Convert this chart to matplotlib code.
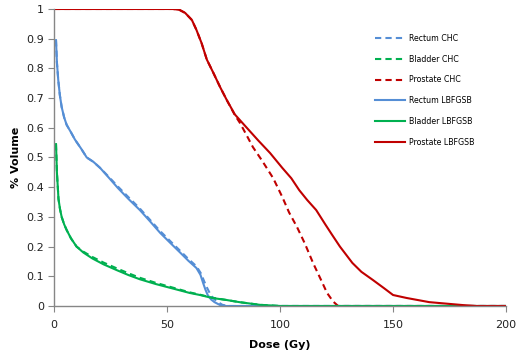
import matplotlib
matplotlib.use("Agg")
import matplotlib.pyplot as plt

# Data (dose in Gy, fractional volume)
rectum_lbfgsb_dose = [0.9, 1.3, 1.9, 2.6, 3.4, 4.5, 5.6, 7.5, 9.3, 12, 14.5, 17.5, 20.4, 24.5, 28.3, 33, 38, 42.5, 47, 51.5, 55.8, 59.5, 63, 64.8, 66, 67, 68, 69.5, 71, 73.5, 76, 200]
rectum_lbfgsb_vol  = [0.895, 0.82, 0.76, 0.71, 0.67, 0.635, 0.61, 0.585, 0.56, 0.53, 0.50, 0.485, 0.465, 0.43, 0.397, 0.36, 0.323, 0.285, 0.246, 0.212, 0.18, 0.152, 0.128, 0.105, 0.077, 0.055, 0.037, 0.022, 0.013, 0.003, 0.0, 0.0]
rectum_chc_dose = [0.9, 1.3, 1.9, 2.6, 3.4, 4.5, 5.6, 7.5, 9.3, 12, 14.5, 17.5, 20.4, 24.5, 28.3, 33, 38, 42.5, 47, 51.5, 55.8, 59.5, 63, 65, 66.5, 67.8, 69, 70.5, 72, 74.5, 77, 200]
rectum_chc_vol  = [0.895, 0.82, 0.76, 0.71, 0.67, 0.635, 0.61, 0.585, 0.56, 0.53, 0.50, 0.485, 0.465, 0.433, 0.402, 0.366, 0.328, 0.29, 0.252, 0.218, 0.186, 0.158, 0.134, 0.11, 0.082, 0.06, 0.042, 0.026, 0.016, 0.004, 0.0, 0.0]

bladder_lbfgsb_dose = [0.9, 1.3, 2.0, 2.7, 3.4, 4.5, 5.6, 7.5, 10, 13, 17, 22, 28, 33, 38, 45, 53, 60, 64.6, 70, 76.5, 82, 91, 100, 200]
bladder_lbfgsb_vol  = [0.545, 0.45, 0.36, 0.325, 0.30, 0.275, 0.256, 0.228, 0.2, 0.18, 0.16, 0.14, 0.12, 0.104, 0.09, 0.074, 0.058, 0.044, 0.037, 0.027, 0.02, 0.013, 0.004, 0.0, 0.0]
bladder_chc_dose = [0.9, 1.3, 2.0, 2.7, 3.4, 4.5, 5.6, 7.5, 10, 13, 17, 22, 28, 33, 38, 45, 53, 60, 64.6, 70, 76.5, 82, 91, 100, 200]
bladder_chc_vol  = [0.545, 0.45, 0.36, 0.325, 0.30, 0.275, 0.256, 0.228, 0.2, 0.183, 0.165, 0.146, 0.126, 0.11, 0.095, 0.078, 0.061, 0.046, 0.038, 0.028, 0.02, 0.013, 0.004, 0.0, 0.0]

prostate_lbfgsb_dose = [0, 52.7, 55.5, 58, 61, 63, 65.3, 67.6, 70.5, 73.5, 76.4, 80, 85.3, 90.4, 95.6, 101, 105, 108.5, 112, 116, 120, 123, 126.5, 132, 136, 141, 146, 150, 156, 166, 175, 181, 187, 200]
prostate_lbfgsb_vol  = [1.0, 1.0, 0.997, 0.987, 0.963, 0.93, 0.885, 0.83, 0.785, 0.737, 0.694, 0.645, 0.60, 0.557, 0.515, 0.465, 0.43, 0.39, 0.357, 0.323, 0.275, 0.24, 0.20, 0.145, 0.115, 0.088, 0.06, 0.037, 0.027, 0.013, 0.007, 0.003, 0.0, 0.0]
prostate_chc_dose = [0, 52.7, 55.5, 58, 61, 63, 65.3, 67.6, 70.5, 73.5, 76.4, 80, 82.3, 85, 88, 92, 97, 101, 104, 107.5, 111, 114.6, 118, 120.8, 123.5, 125.7, 200]
prostate_chc_vol  = [1.0, 1.0, 0.997, 0.987, 0.963, 0.93, 0.885, 0.83, 0.785, 0.737, 0.694, 0.643, 0.616, 0.578, 0.535, 0.49, 0.43, 0.367, 0.315, 0.266, 0.21, 0.145, 0.09, 0.044, 0.015, 0.0, 0.0]

blue = "#558ED5"
green = "#00B050"
red = "#C00000"

fig = plt.figure(figsize=(5.18, 3.54), dpi=100)
ax = fig.add_axes([0.1042, 0.1356, 0.8728, 0.839])

lw = 1.5
ds = (3, 2)
ax.plot(rectum_chc_dose, rectum_chc_vol, color=blue, lw=lw, ls="--", dashes=ds, label="Rectum CHC")
ax.plot(bladder_chc_dose, bladder_chc_vol, color=green, lw=lw, ls="--", dashes=ds, label="Bladder CHC")
ax.plot(prostate_chc_dose, prostate_chc_vol, color=red, lw=lw, ls="--", dashes=ds, label="Prostate CHC")
ax.plot(rectum_lbfgsb_dose, rectum_lbfgsb_vol, color=blue, lw=lw, label="Rectum LBFGSB")
ax.plot(bladder_lbfgsb_dose, bladder_lbfgsb_vol, color=green, lw=lw, label="Bladder LBFGSB")
ax.plot(prostate_lbfgsb_dose, prostate_lbfgsb_vol, color=red, lw=lw, label="Prostate LBFGSB")

ax.set_xlim(0, 200)
ax.set_ylim(0, 1)
ax.set_xticks([0, 50, 100, 150, 200])
ax.set_yticks([0, 0.1, 0.2, 0.3, 0.4, 0.5, 0.6, 0.7, 0.8, 0.9, 1])
ax.set_yticklabels(["0", "0.1", "0.2", "0.3", "0.4", "0.5", "0.6", "0.7", "0.8", "0.9", "1"])

for s in ["top", "right"]:
    ax.spines[s].set_visible(False)
for s in ["left", "bottom"]:
    ax.spines[s].set_color("#868686")
    ax.spines[s].set_linewidth(1.0)
ax.tick_params(axis="both", direction="out", length=4, color="#868686", labelsize=8, labelcolor="#222222", pad=3)
ax.tick_params(axis="x", pad=6)

ax.set_xlabel("Dose (Gy)", fontsize=8, fontweight="bold", labelpad=7)
ax.set_ylabel("% Volume", fontsize=8, fontweight="bold", labelpad=4)

leg = ax.legend(loc="upper left", bbox_to_anchor=(0.695, 0.94), frameon=False, fontsize=5.7,
                handlelength=3.8, labelspacing=1.48, handletextpad=0.4)

fig.savefig("out.png", dpi=100)
